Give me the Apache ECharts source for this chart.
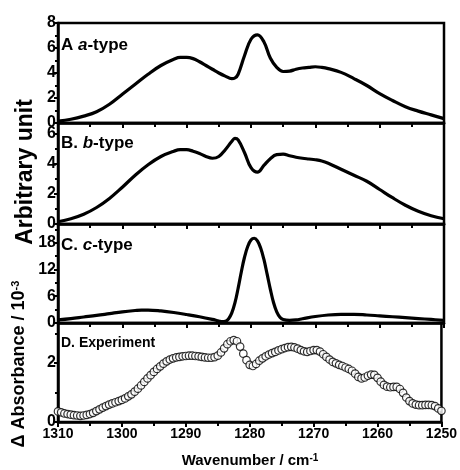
<!DOCTYPE html>
<html><head><meta charset="utf-8">
<script src="https://cdn.jsdelivr.net/npm/echarts@6/dist/echarts.min.js"></script>
<style>html,body{margin:0;padding:0;background:#fff}#c{width:460px;height:470px}</style>
</head><body><div id="c"></div>
<script>
// Wavenumber grid for simulated a- and b-type bands (cm^-1)
const wnAB = [1310,1308,1306,1304,1302,1300,1298,1296,1294,1292,1291,1290,1289,1288,1287,1286,1285,1284,1283,1282.5,1282,1281,1280,1279,1278,1277,1276,1275,1274,1273,1272,1271,1270,1269,1268,1266,1264,1262,1260,1258,1256,1254,1252,1250];
const valA = [0.15,0.3,0.55,0.9,1.5,2.3,3.1,3.9,4.6,5.1,5.25,5.25,5.15,4.9,4.6,4.3,4.0,3.75,3.55,3.6,3.9,5.4,6.7,7.05,6.5,5.2,4.45,4.12,4.15,4.3,4.4,4.45,4.5,4.45,4.35,4.05,3.55,3.0,2.35,1.8,1.3,0.95,0.65,0.35];
const valB = [0.15,0.35,0.65,1.1,1.7,2.45,3.25,3.95,4.5,4.85,4.95,4.95,4.85,4.7,4.5,4.38,4.5,4.95,5.5,5.7,5.6,4.75,3.75,3.45,3.9,4.35,4.62,4.65,4.55,4.45,4.38,4.33,4.28,4.2,4.05,3.65,3.25,2.85,2.3,1.75,1.25,0.85,0.55,0.35];
// c-type band
const wnC = [1310,1308,1306,1304,1302,1300,1298,1297,1296,1294,1292,1290,1288,1286,1285,1284.5,1284,1283.5,1283,1282.5,1282,1281.5,1281,1280.5,1280,1279.5,1279,1278.5,1278,1277.5,1277,1276.5,1276,1275.5,1275,1274,1273,1272,1270,1268,1266,1264,1262,1260,1258,1256,1254,1252,1250];
const valC = [0.7,1.0,1.35,1.7,2.1,2.5,2.8,2.9,2.9,2.7,2.35,1.9,1.4,0.8,0.45,0.3,0.35,0.9,2.2,4.5,7.8,11.5,14.8,17.2,18.6,19.0,18.4,16.8,14.3,11.0,7.6,4.6,2.5,1.3,0.8,0.6,0.7,0.95,1.45,1.8,1.95,1.95,1.8,1.6,1.4,1.2,1.0,0.8,0.6];
// experiment
const wnD = [1310,1309.5,1309,1308.5,1308,1307.5,1307,1306.5,1306,1305.5,1305,1304.5,1304,1303.5,1303,1302.5,1302,1301.5,1301,1300.5,1300,1299.5,1299,1298.5,1298,1297.5,1297,1296.5,1296,1295.5,1295,1294.5,1294,1293.5,1293,1292.5,1292,1291.5,1291,1290.5,1290,1289.5,1289,1288.5,1288,1287.5,1287,1286.5,1286,1285.5,1285,1284.5,1284,1283.5,1283,1282.5,1282,1281.5,1281,1280.5,1280,1279.5,1279,1278.5,1278,1277.5,1277,1276.5,1276,1275.5,1275,1274.5,1274,1273.5,1273,1272.5,1272,1271.5,1271,1270.5,1270,1269.5,1269,1268.5,1268,1267.5,1267,1266.5,1266,1265.5,1265,1264.5,1264,1263.5,1263,1262.5,1262,1261.5,1261,1260.5,1260,1259.5,1259,1258.5,1258,1257.5,1257,1256.5,1256,1255.5,1255,1254.5,1254,1253.5,1253,1252.5,1252,1251.5,1251,1250.5,1250];
const valD = [0.36,0.33,0.29,0.27,0.25,0.23,0.22,0.21,0.22,0.24,0.27,0.31,0.37,0.43,0.49,0.54,0.59,0.63,0.67,0.71,0.75,0.80,0.87,0.94,1.03,1.13,1.24,1.36,1.48,1.59,1.70,1.80,1.89,1.98,2.06,2.12,2.16,2.19,2.21,2.23,2.24,2.25,2.25,2.24,2.23,2.21,2.19,2.18,2.18,2.20,2.25,2.36,2.50,2.64,2.74,2.78,2.74,2.56,2.32,2.10,1.94,1.90,1.97,2.08,2.16,2.23,2.29,2.34,2.38,2.43,2.47,2.51,2.54,2.55,2.53,2.49,2.44,2.40,2.38,2.41,2.44,2.44,2.39,2.30,2.21,2.12,2.04,1.99,1.94,1.90,1.85,1.80,1.74,1.64,1.53,1.48,1.51,1.57,1.61,1.60,1.50,1.37,1.26,1.20,1.18,1.19,1.19,1.12,0.99,0.83,0.71,0.63,0.59,0.57,0.57,0.58,0.58,0.57,0.54,0.46,0.38];

const panelLabels = ['A {i|a}-type','B. {i|b}-type','C. {i|c}-type','D. Experiment'];
const xTicks = {min:1250, max:1310, interval:10};
const yRanges = [
  {min:0,max:8,interval:2},
  {min:0,max:6.73,interval:2},
  {min:0,max:22.2,interval:6},
  {min:0,max:3.36,interval:2}
];

const FONT = '"Liberation Sans",Arial,sans-serif';
const tops = [23,123,224,323];
const heights = [100,101,99,99];

const chart = echarts.init(document.getElementById('c'), null, {renderer:'canvas'});
const grid = [], xAxis = [], yAxis = [], series = [], graphic = [];
for (let i = 0; i < 4; i++) {
  grid.push({left:58, width:386, top:tops[i], height:heights[i], show:true, borderColor:'#000', borderWidth:2.5, backgroundColor:'transparent'});
  xAxis.push({type:'value', gridIndex:i, min:xTicks.min, max:xTicks.max, interval:xTicks.interval, inverse:true,
    axisLine:{show:true,onZero:false,lineStyle:{color:'#000',width:2.5}},
    axisTick:{show:true,inside:false,length:5,lineStyle:{color:'#000',width:2}},
    minorTick:{show:true,splitNumber:2,length:4,lineStyle:{color:'#000',width:2}},
    splitLine:{show:false},
    axisLabel:{show:i===3, color:'#000', fontSize:14, fontWeight:'bold', fontFamily:FONT, margin:5, formatter:v=>String(v)}
  });
  yAxis.push({type:'value', gridIndex:i, min:yRanges[i].min, max:yRanges[i].max, interval:yRanges[i].interval,
    axisLine:{show:true,lineStyle:{color:'#000',width:2.5}},
    axisTick:{show:true,inside:false,length:4,lineStyle:{color:'#000',width:2}},
    minorTick:{show:true,splitNumber:2,length:3,lineStyle:{color:'#000',width:2}},
    splitLine:{show:false},
    axisLabel:{color:'#000', fontSize:16, fontWeight:'bold', fontFamily:FONT, margin:2, showMaxLabel:i===0}
  });
}
const lineStyle = {color:'#000', width:3.2};
series.push({type:'line', xAxisIndex:0, yAxisIndex:0, data:wnAB.map((w,k)=>[w,valA[k]]), smooth:0.4, showSymbol:false, lineStyle});
series.push({type:'line', xAxisIndex:1, yAxisIndex:1, data:wnAB.map((w,k)=>[w,valB[k]]), smooth:0.4, showSymbol:false, lineStyle});
series.push({type:'line', xAxisIndex:2, yAxisIndex:2, data:wnC.map((w,k)=>[w,valC[k]]), smooth:0.4, showSymbol:false, lineStyle});
series.push({type:'scatter', xAxisIndex:3, yAxisIndex:3, data:wnD.map((w,k)=>[w,valD[k]]), symbol:'circle', symbolSize:7.5,
  itemStyle:{color:'#fff', borderColor:'#000', borderWidth:1.2}, silent:true});

const labelY = [45, 143, 245, 343];
const labelSize = [17, 17, 17, 14];
for (let i = 0; i < 4; i++) {
  graphic.push({type:'text', x:61, y:labelY[i], style:{text:panelLabels[i], fill:'#000', fontSize:labelSize[i], fontWeight:'bold', fontFamily:FONT, verticalAlign:'middle',
    rich:{i:{fontStyle:'italic', fontSize:labelSize[i], fontWeight:'bold', fontFamily:FONT}}}});
}
graphic.push({type:'text', x:26, y:172, rotation:Math.PI/2, style:{text:'Arbitrary unit', fill:'#000', fontSize:23, fontWeight:'bold', fontFamily:FONT, align:'center', verticalAlign:'middle'}});
graphic.push({type:'text', x:19, y:364, rotation:Math.PI/2, style:{text:'Δ Absorbance / 10{s|-3}', fill:'#000', fontSize:18, fontWeight:'bold', fontFamily:FONT, align:'center', verticalAlign:'middle',
  rich:{s:{fontSize:11, verticalAlign:'top', fontWeight:'bold', fontFamily:FONT}}}});
graphic.push({type:'text', x:250, y:461, style:{text:'Wavenumber / cm{s|-1}', fill:'#000', fontSize:15, fontWeight:'bold', fontFamily:FONT, align:'center', verticalAlign:'middle',
  rich:{s:{fontSize:10, verticalAlign:'top', fontWeight:'bold', fontFamily:FONT}}}});

chart.setOption({animation:false, backgroundColor:'#fff', grid, xAxis, yAxis, series, graphic});
</script>
</body></html>
